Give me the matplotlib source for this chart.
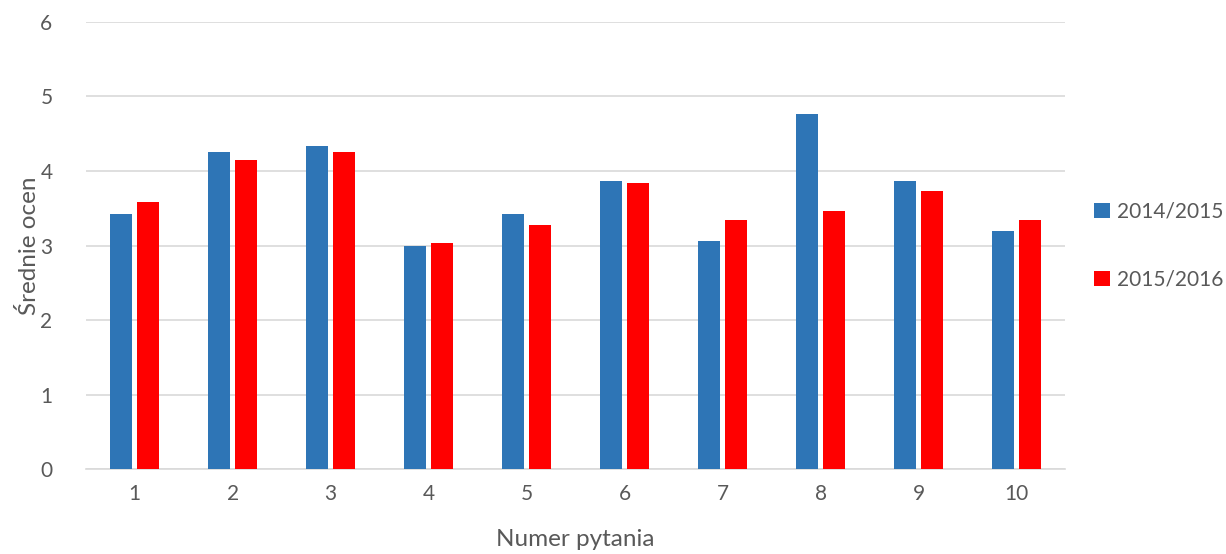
import matplotlib.pyplot as plt
import numpy as np

plt.rcParams['font.family'] = ['Lato', 'DejaVu Sans']

# Data
questions = ['1', '2', '3', '4', '5', '6', '7', '8', '9', '10']
series_names = ['2014/2015', '2015/2016']
avg_2014 = [3.42, 4.25, 4.34, 3.00, 3.42, 3.86, 3.06, 4.76, 3.87, 3.19]
avg_2015 = [3.58, 4.15, 4.26, 3.04, 3.27, 3.84, 3.34, 3.46, 3.73, 3.34]

blue = '#2e75b6'
red = '#ff0000'
text_col = '#595959'
grid_col = '#d9d9d9'

fig = plt.figure(figsize=(12.26, 5.54), dpi=100)
ax = fig.add_axes([0.070, 0.1534, 0.799, 0.8069])

x = np.arange(1, len(questions) + 1)
w = 0.225
off = 0.138
ax.bar(x - off, avg_2014, width=w, color=blue, label=series_names[0], zorder=3)
ax.bar(x + off, avg_2015, width=w, color=red, label=series_names[1], zorder=3)

ax.set_xlim(0.5, len(questions) + 0.5)
ax.set_ylim(0, 6)
ax.set_xticks(x)
ax.set_xticklabels(questions)
ax.set_yticks(range(0, 7))

ax.grid(axis='y', color=grid_col, linewidth=1.2, zorder=0)
for s in ['top', 'right', 'left']:
    ax.spines[s].set_visible(False)
ax.spines['bottom'].set_color(grid_col)
ax.spines['bottom'].set_linewidth(1.2)
ax.tick_params(length=0, labelsize=15, colors=text_col)
ax.tick_params(axis='x', pad=11)
ax.tick_params(axis='y', pad=24)

ax.set_xlabel('Numer pytania', fontsize=17.5, color=text_col, labelpad=18)
ax.set_ylabel('Średnie ocen', fontsize=17.5, color=text_col, labelpad=0)

ax.legend(loc='center left', bbox_to_anchor=(1.01, 0.5), frameon=False,
          fontsize=15, labelcolor=text_col, handlelength=0.75, handleheight=0.75,
          handletextpad=0.35, labelspacing=2.3)

fig.savefig('out.png', dpi=100)
